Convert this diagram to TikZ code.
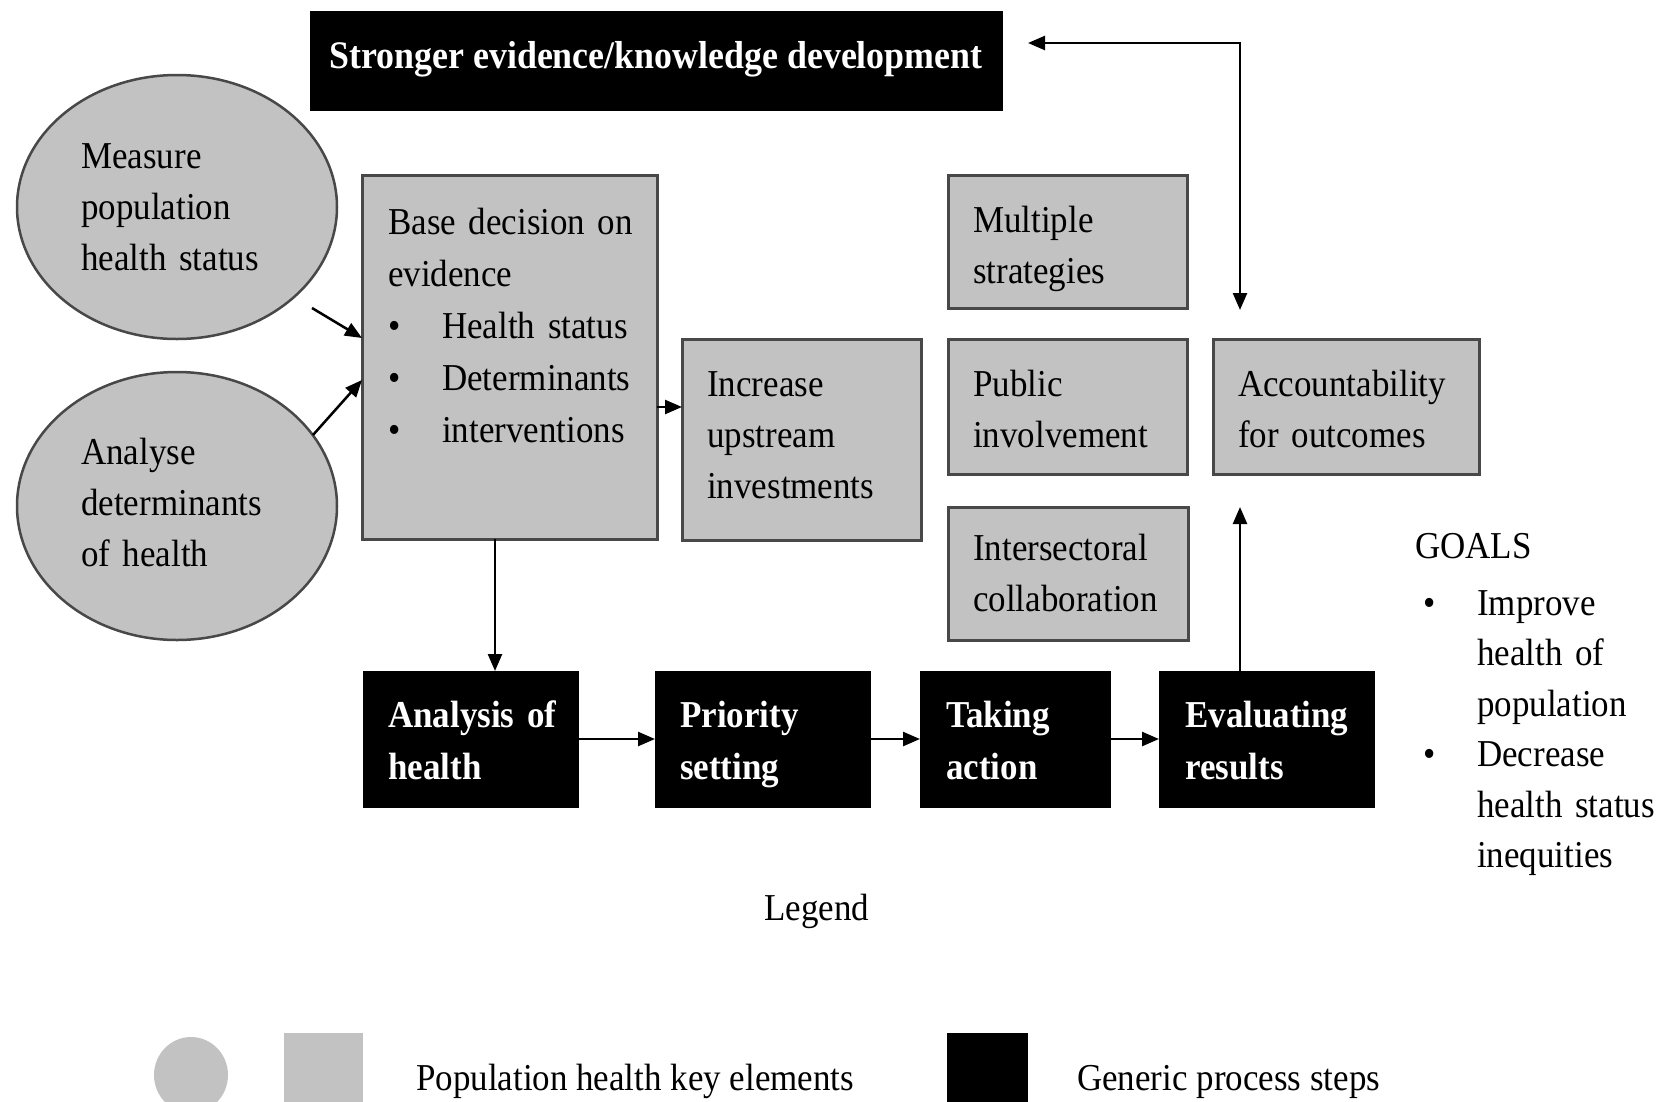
\documentclass[tikz,border=0pt]{standalone}
\usepackage{fontspec}
\setmainfont{Liberation Serif}[FakeStretch=0.92]
\usetikzlibrary{arrows.meta,calc,shapes.geometric}
\definecolor{boxgray}{RGB}{194,194,194}
\definecolor{edgegray}{RGB}{72,72,72}
\begin{document}
\begin{tikzpicture}[x=1pt,y=-1pt,
  gbox/.style={draw=edgegray, line width=3pt, fill=boxgray, inner sep=0pt, outer sep=0pt, anchor=north west},
  kbox/.style={draw=black, line width=1pt, fill=black, inner sep=0pt, outer sep=0pt, anchor=north west},
  ell/.style={ellipse, draw=edgegray, line width=2.5pt, fill=boxgray, inner sep=0pt, outer sep=0pt},
  txt/.style={font=\fontsize{38}{51}\selectfont, inner sep=0pt, anchor=base west, align=left, text width=400pt},
  btxt/.style={txt, font=\bfseries\fontsize{38}{52}\selectfont, text=white},
  arr/.style={-{Triangle[length=17pt,width=14pt]}, line width=2.5pt},
  dblarr/.style={{Triangle[length=17pt,width=14pt]}-{Triangle[length=17pt,width=14pt]}, line width=2.5pt}
]
\useasboundingbox (0,0) rectangle (1663,1101);
\fill[white] (0,0) rectangle (1663,1101);

% top box
\node[kbox, minimum width=692pt, minimum height=99pt] (top) at (310,11) {};
\node[font=\bfseries\fontsize{39}{44}\selectfont, text=white, inner sep=0pt, anchor=base] (toptxt) at (656,68) {Stronger evidence/knowledge development};

% ellipses
\node[ell, minimum width=320pt, minimum height=264pt] (meas) at (177,207) {};
\node[ell, minimum width=320pt, minimum height=268pt] (anal) at (177,506) {};
\node[txt] (meastxt) at (81,168) {Measure\\population\\health status};
\node[txt] (analtxt) at (81,464) {Analyse\\determinants\\of health};

% gray boxes
\node[gbox, minimum width=295pt, minimum height=364pt] (base) at (362,175) {};
\node[gbox, minimum width=239pt, minimum height=201pt] (inc) at (682,339) {};
\node[gbox, minimum width=239pt, minimum height=133pt] (mult) at (948,175) {};
\node[gbox, minimum width=239pt, minimum height=135pt] (pub) at (948,339) {};
\node[gbox, minimum width=240pt, minimum height=133pt] (inter) at (948,507) {};
\node[gbox, minimum width=266pt, minimum height=135pt] (acc) at (1213,339) {};

\node[txt, font=\fontsize{38}{52}\selectfont] (basetxt) at (388,234) {Base decision on\\evidence\\\makebox[54pt][l]{\textbullet}Health status\\\makebox[54pt][l]{\textbullet}Determinants\\\makebox[54pt][l]{\textbullet}interventions};
\node[txt] (inctxt) at (707,396) {Increase\\upstream\\investments};
\node[txt] (multtxt) at (973,232) {Multiple\\strategies};
\node[txt] (pubtxt) at (973,396) {Public\\involvement};
\node[txt] (intertxt) at (973,560) {Intersectoral\\collaboration};
\node[txt] (acctxt) at (1238,396) {Accountability\\for outcomes};

% black process boxes
\node[kbox, minimum width=215pt, minimum height=136pt] (ana) at (363,671) {};
\node[kbox, minimum width=215pt, minimum height=136pt] (pri) at (655,671) {};
\node[kbox, minimum width=190pt, minimum height=136pt] (tak) at (920,671) {};
\node[kbox, minimum width=215pt, minimum height=136pt] (evl) at (1159,671) {};
\node[btxt] (anatxt) at (388,727) {Analysis of\\health};
\node[btxt] (pritxt) at (680,727) {Priority\\setting};
\node[btxt] (taktxt) at (946,727) {Taking\\action};
\node[btxt] (evltxt) at (1185,727) {Evaluating\\results};

% goals
\node[txt] (goals) at (1415,558) {GOALS};
\node[txt, font=\fontsize{38}{50.5}\selectfont] (goallist) at (1423,615) {\makebox[54pt][l]{\textbullet}Improve\\\hspace*{54pt}health of\\\hspace*{54pt}population\\\makebox[54pt][l]{\textbullet}Decrease\\\hspace*{54pt}health status\\\hspace*{54pt}inequities};

% connectors
\coordinate (a1s) at (312,308);
\coordinate (a1e) at (362,338);
\coordinate (a2s) at (313,435);
\coordinate (a2e) at (362,380);
\draw[arr] (a1s) -- (a1e);
\draw[arr] (a2s) -- (a2e);
\coordinate (bx) at (495,0);
\coordinate (by) at (0,407);
\draw[arr] (base.east |- by) -- (inc.west |- by);
\draw[arr] (base.south -| bx) -- (ana.north -| bx);
\draw[arr] (ana.east) -- (pri.west);
\draw[arr] (pri.east) -- (tak.west);
\draw[arr] (tak.east) -- (evl.west);
\coordinate (evtip) at (1240,507);
\draw[arr] (evl.north -| evtip) -- (evtip);
\coordinate (fbleft) at (1028,43);
\coordinate (fbcorner) at (1240,43);
\coordinate (fbdown) at (1240,310);
\draw[dblarr] (fbleft) -- (fbcorner) -- (fbdown);

% legend
\node[font=\fontsize{38}{44}\selectfont, inner sep=0pt, anchor=base] (legend) at (817,920) {Legend};
\begin{scope}
\clip (0,0) rectangle (1663,1101);
\node[ellipse, fill=boxgray, minimum width=74pt, minimum height=76pt, inner sep=0pt] (legell) at (191,1075) {};
\node[fill=boxgray, anchor=north west, minimum width=79pt, minimum height=80pt, inner sep=0pt] (legsq) at (284,1033) {};
\node[fill=black, anchor=north west, minimum width=81pt, minimum height=80pt, inner sep=0pt] (legblk) at (947,1033) {};
\end{scope}
\node[font=\fontsize{38}{44}\selectfont, inner sep=0pt, anchor=base west] (legtxt1) at (416,1090) {Population health key elements};
\node[font=\fontsize{38}{44}\selectfont, inner sep=0pt, anchor=base west] (legtxt2) at (1077,1090) {Generic process steps};
\end{tikzpicture}
\end{document}
